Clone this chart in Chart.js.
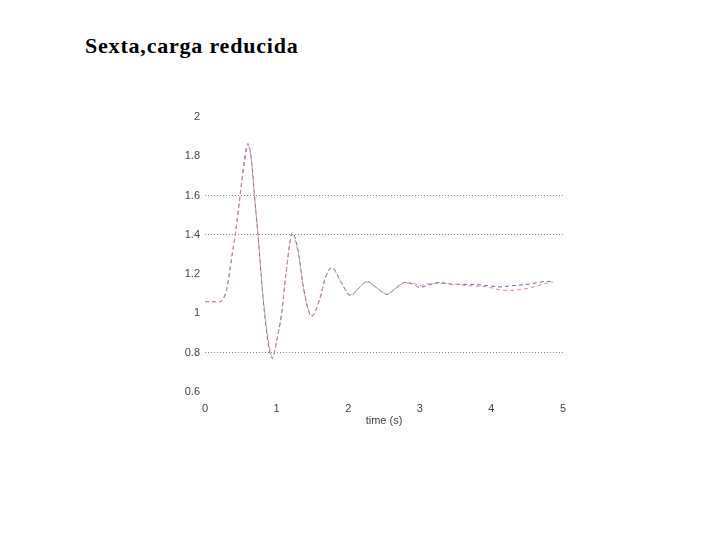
<!DOCTYPE html>
<html>
<head>
<meta charset="utf-8">
<script src="https://cdn.jsdelivr.net/npm/chart.js@4/dist/chart.umd.min.js"></script>
<style>
  html, body { margin: 0; padding: 0; background: #fff; }
  #wrap { position: relative; width: 720px; height: 540px; }
  #title {
    position: absolute; left: 85px; top: 33px;
    font-family: "Liberation Serif", serif; font-weight: bold; font-size: 22px; letter-spacing: 0.8px; color: #000;
  }
  canvas { position: absolute; left: 0; top: 0; }
</style>
</head>
<body>
<div id="wrap">
  <div id="title">Sexta,carga reducida</div>
  <canvas id="chart" width="720" height="540"></canvas>
</div>
<script>
// time axis (s)
const time = [0, 0.21, 0.3, 0.38, 0.43, 0.49, 0.55, 0.6, 0.65, 0.69, 0.74, 0.8, 0.87, 0.94, 1.0, 1.07, 1.13, 1.22,
  1.3, 1.38, 1.49, 1.6, 1.68, 1.77, 1.9, 2.03, 2.15, 2.26, 2.4, 2.54, 2.67, 2.79, 2.9, 3.0, 3.1, 3.28, 3.46,
  3.7, 3.94, 4.12, 4.26, 4.54, 4.78, 4.86];

const seriesBlue = [1.06, 1.06, 1.12, 1.30, 1.42, 1.60, 1.78, 1.865, 1.78, 1.60, 1.40, 1.12, 0.88, 0.77, 0.86, 1.0, 1.2, 1.41,
  1.32, 1.12, 0.985, 1.07, 1.18, 1.235, 1.16, 1.09, 1.13, 1.163, 1.13, 1.097, 1.13, 1.158, 1.15, 1.132, 1.142, 1.158, 1.148,
  1.148, 1.142, 1.135, 1.14, 1.15, 1.163, 1.163];

const seriesRed = [1.06, 1.06, 1.12, 1.30, 1.42, 1.60, 1.76, 1.855, 1.77, 1.60, 1.40, 1.13, 0.90, 0.78, 0.86, 1.0, 1.2, 1.40,
  1.31, 1.12, 0.99, 1.07, 1.18, 1.23, 1.16, 1.095, 1.13, 1.16, 1.13, 1.10, 1.13, 1.155, 1.155, 1.14, 1.15, 1.152, 1.15,
  1.14, 1.135, 1.12, 1.117, 1.13, 1.155, 1.16];

const yTicks = [0.6, 0.8, 1, 1.2, 1.4, 1.6, 1.8, 2];
const gridAt = [0.8, 1.4, 1.6];

const toPoints = vals => time.map((t, i) => ({ x: t, y: vals[i] }));
const tickFont = { family: 'Liberation Sans, Arial, sans-serif', size: 11 };

new Chart(document.getElementById('chart').getContext('2d'), {
  type: 'line',
  data: {
    datasets: [
      { label: 'b', data: toPoints(seriesRed), borderColor: '#d68c9c', borderWidth: 1, borderDash: [4, 3],
        pointRadius: 0, cubicInterpolationMode: 'monotone', fill: false },
      { label: 'a', data: toPoints(seriesBlue), borderColor: '#6a6aa6', borderWidth: 1, borderDash: [4, 3],
        pointRadius: 0, cubicInterpolationMode: 'monotone', fill: false },
    ],
  },
  options: {
    responsive: false,
    animation: false,
    layout: { padding: { left: 0, top: 117, right: 157, bottom: 112 } },
    plugins: { legend: { display: false }, tooltip: { enabled: false } },
    scales: {
      x: {
        type: 'linear', min: 0, max: 5,
        afterFit: s => { s.height = 36; },
        border: { display: false },
        grid: { display: false },
        ticks: { stepSize: 1, color: '#444', font: tickFont, padding: 2, maxRotation: 0 },
        title: { display: true, text: 'time (s)', color: '#444', font: tickFont, padding: { top: 4, bottom: 0 } },
      },
      y: {
        min: 0.6, max: 2,
        afterFit: s => { s.width = 205; },
        afterBuildTicks: s => { s.ticks = yTicks.map(v => ({ value: v })); },
        border: { display: false, dash: [1, 2] },
        grid: {
          drawTicks: false,
          color: ctx => gridAt.some(g => Math.abs(g - ctx.tick.value) < 1e-6) ? '#888' : 'rgba(0,0,0,0)',
          lineWidth: 1,
          borderDash: [1, 2],
        },
        ticks: { color: '#444', font: tickFont, padding: 5, callback: v => String(Math.round(v * 10) / 10) },
      },
    },
  },
});
</script>
</body>
</html>
